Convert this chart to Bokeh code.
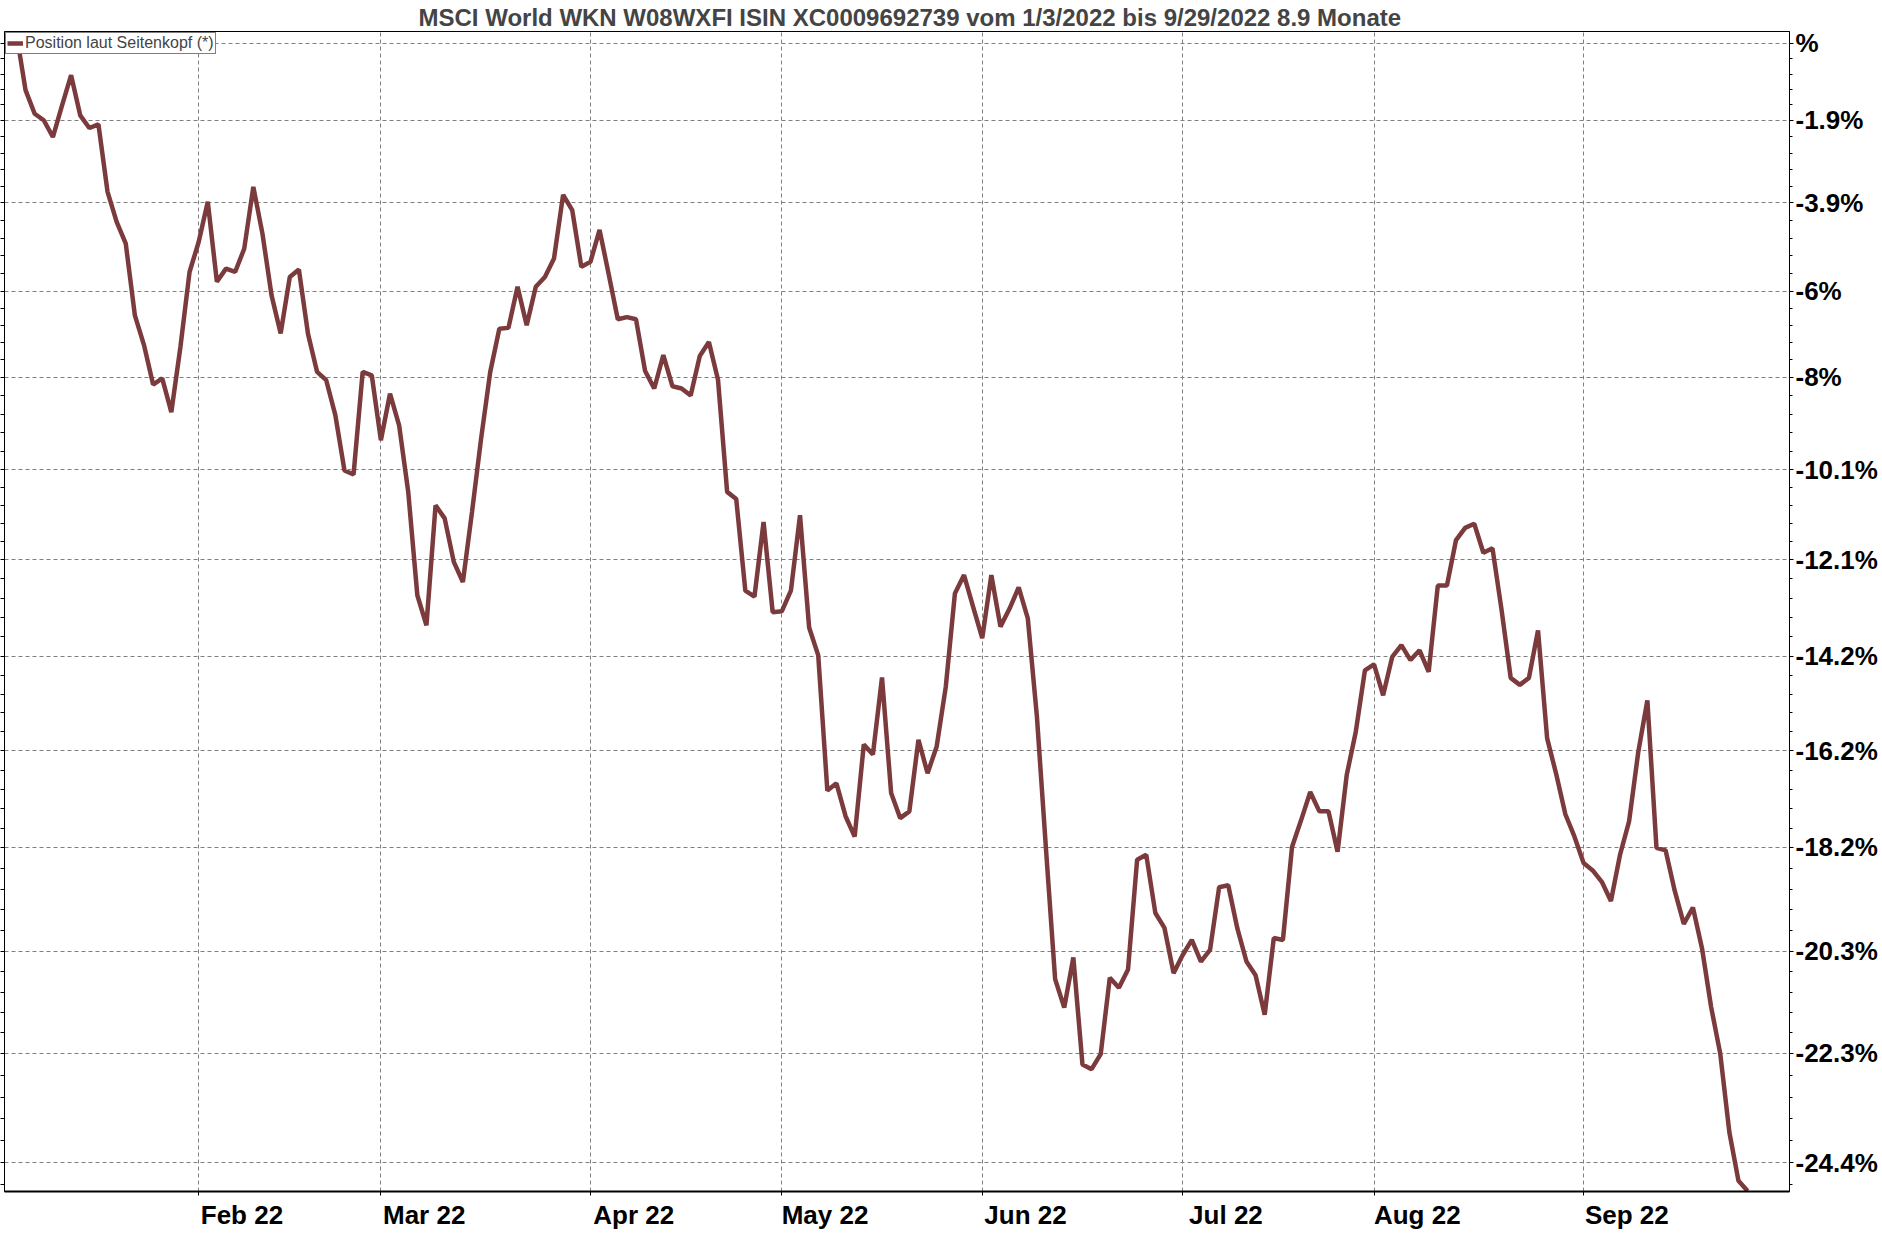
from bokeh.plotting import figure
from bokeh.models import Range1d, FixedTicker, LogAxis
from bokeh.embed import file_html
from bokeh.resources import INLINE

title_text = "MSCI World WKN W08WXFI ISIN XC0009692739 vom 1/3/2022 bis 9/29/2022 8.9 Monate"
series_name = "Position laut Seitenkopf (*)"

# performance in % since 1/3/2022, one value per weekday
pct = [
    0.00, 0.25, -1.16, -1.74, -1.90, -2.31, -1.54, -0.79, -1.78, -2.09,
    -2.00, -3.64, -4.36, -4.88, -6.57, -7.26, -8.17, -8.03, -8.80, -7.30,
    -5.55, -4.84, -3.88, -5.78, -5.47, -5.55, -5.00, -3.52, -4.64, -6.10,
    -6.99, -5.67, -5.49, -7.00, -7.88, -8.07, -8.87, -10.12, -10.21, -7.88,
    -7.96, -9.44, -8.38, -9.10, -10.60, -12.88, -13.53, -10.90, -11.19, -12.15,
    -12.59, -11.05, -9.40, -7.88, -6.88, -6.86, -5.90, -6.80, -5.90, -5.67,
    -5.23, -3.71, -4.08, -5.43, -5.31, -4.55, -5.60, -6.66, -6.61, -6.66,
    -7.86, -8.26, -7.49, -8.21, -8.26, -8.42, -7.51, -7.19, -8.06, -10.60,
    -10.76, -12.78, -12.91, -11.27, -13.25, -13.23, -12.78, -11.12, -13.58, -14.18,
    -17.03, -16.88, -17.56, -17.98, -16.07, -16.28, -14.65, -17.08, -17.60, -17.46,
    -15.97, -16.67, -16.11, -14.85, -12.84, -12.44, -13.13, -13.81, -12.44, -13.56,
    -13.17, -12.71, -13.38, -15.48, -18.24, -20.85, -21.41, -20.42, -22.52, -22.61,
    -22.32, -20.82, -21.02, -20.66, -18.45, -18.35, -19.53, -19.83, -20.73, -20.37,
    -20.07, -20.50, -20.27, -19.01, -18.97, -19.84, -20.50, -20.77, -21.55, -20.03,
    -20.07, -18.19, -17.64, -17.06, -17.46, -17.46, -18.29, -16.71, -15.80, -14.50,
    -14.37, -15.03, -14.21, -13.96, -14.28, -14.07, -14.53, -12.67, -12.67, -11.67,
    -11.40, -11.31, -11.95, -11.85, -13.20, -14.66, -14.81, -14.66, -13.64, -15.94,
    -16.69, -17.52, -17.98, -18.52, -18.67, -18.90, -19.29, -18.35, -17.66, -16.23,
    -15.14, -18.21, -18.26, -19.08, -19.75, -19.42, -20.24, -21.40, -22.31, -23.82,
    -24.74, -24.93,
]

# weekday index of the first day of each month
month_idx = [21, 41, 64, 85, 107, 129, 150, 173]
month_labels = ["Feb 22", "Mar 22", "Apr 22", "May 22", "Jun 22", "Jul 22", "Aug 22", "Sep 22"]

grid_pct = [0, -1.9, -3.9, -6, -8, -10.1, -12.1, -14.2, -16.2, -18.2, -20.3, -22.3, -24.4]
grid_labels = ["%", "-1.9%", "-3.9%", "-6%", "-8%", "-10.1%", "-12.1%", "-14.2%",
               "-16.2%", "-18.2%", "-20.3%", "-22.3%", "-24.4%"]

day = list(range(len(pct)))
ratio = [1 + v / 100 for v in pct]

# price scale is logarithmic, ticks sit on the ratio values
yticks = [1 + g / 100 for g in grid_pct]
yminor = []
ext = [yticks[0] * yticks[0] / yticks[1]] + yticks + [yticks[-1] * yticks[-1] / yticks[-2]]
for a, b in zip(ext[:-1], ext[1:]):
    for k in range(1, 5):
        yminor.append(a * (b / a) ** (k / 5))

# month labels start at the gridline instead of being centred on it
label_shift = 4.75
label_pos = [m + label_shift for m in month_idx]

line_color = "#7b3b3d"
grid_color = "#808080"
font = "Liberation Sans"

p = figure(width=1880, height=1232, output_backend="svg", toolbar_location=None,
           y_axis_type="log", y_axis_location="right",
           x_range=Range1d(-0.31, 195.6), y_range=Range1d(0.7506, 1.0030),
           min_border_left=0, min_border_right=0, min_border_top=0, min_border_bottom=0)

p.title.text = title_text
p.title.align = "left"
p.title.offset = 414
p.title.text_font = font
p.title.text_font_size = "24px"
p.title.text_font_style = "bold"
p.title.standoff = 2

p.line(day, ratio, line_color=line_color, line_width=4.5, legend_label=series_name)

yt = FixedTicker(ticks=yticks, minor_ticks=yminor)
xt = FixedTicker(ticks=month_idx, minor_ticks=[])
xlab = FixedTicker(ticks=label_pos, minor_ticks=month_idx)

ax = p.yaxis[0]
ax.ticker = yt
ax.major_label_overrides = dict(zip(yticks, grid_labels))
ax.major_label_text_font = font
ax.major_label_text_font_size = "26px"
ax.major_label_text_font_style = "bold"
ax.major_label_text_color = "black"
ax.major_tick_out = 4
ax.major_tick_in = 0
ax.minor_tick_out = 3
ax.minor_tick_in = 0
ax.major_label_standoff = 2
ax.axis_line_color = "black"

left = LogAxis(ticker=yt, major_label_text_font_size="0px", major_tick_out=4, major_tick_in=0,
               minor_tick_out=4, minor_tick_in=0, major_label_standoff=0,
               axis_line_color="black")
p.add_layout(left, "left")

bx = p.xaxis[0]
bx.ticker = xlab
bx.major_label_overrides = dict(zip(label_pos, month_labels))
bx.major_label_text_font = font
bx.major_label_text_font_size = "26px"
bx.major_label_text_font_style = "bold"
bx.major_label_text_color = "black"
bx.major_tick_out = 0
bx.major_tick_in = 0
bx.minor_tick_out = 4
bx.minor_tick_in = 0
bx.minor_tick_line_color = "black"
bx.major_label_standoff = 4
bx.axis_line_color = "black"
bx.axis_line_width = 2

p.xgrid.ticker = xt
p.ygrid.ticker = yt
for g in (p.xgrid, p.ygrid):
    g.grid_line_color = grid_color
    g.grid_line_dash = "4 3"
    g.grid_line_width = 1

p.outline_line_color = "black"
p.outline_line_width = 1

lg = p.legend[0]
lg.location = "top_left"
lg.margin = 1
lg.padding = 1
lg.spacing = 0
lg.border_line_color = "black"
lg.border_line_width = 1
lg.background_fill_color = "white"
lg.background_fill_alpha = 1
lg.label_text_font = font
lg.label_text_font_size = "16px"
lg.label_standoff = 2
lg.label_height = 17
lg.glyph_width = 16
lg.glyph_height = 14

open("out.html", "w").write(file_html(p, INLINE))
